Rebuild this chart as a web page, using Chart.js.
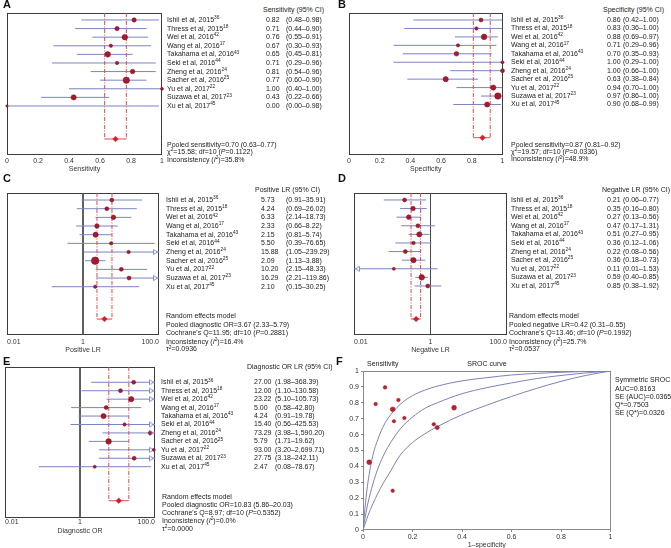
<!DOCTYPE html>
<html><head><meta charset="utf-8">
<script src="https://cdn.jsdelivr.net/npm/chart.js@4/dist/chart.umd.min.js"></script>
<style>
html,body{margin:0;padding:0;background:#fff;}
body{width:671px;height:548px;position:relative;overflow:hidden;font-family:"Liberation Sans",Arial,sans-serif;color:#222;}
canvas{position:absolute;}
.t{position:absolute;white-space:nowrap;font-size:7px;line-height:8px;height:8px;}
.sup{font-size:4.8px;position:relative;top:-2.7px;}
.lbl{position:absolute;font-weight:bold;font-size:11px;line-height:11px;color:#111;}
</style></head><body>
<script>
// ---------------- DATA ----------------
const studies = ["Ishii et al, 2015","Thress et al, 2015","Wei et al, 2016","Wang et al, 2016","Takahama et al, 2016","Seki et al, 2016","Zheng et al, 2016","Sacher et al, 2016","Yu et al, 2017","Suzawa et al, 2017","Xu et al, 2017"];
const refNums = ["36","18","42","17","43","44","24","25","22","23","45"];

const sensEst = [0.82,0.71,0.76,0.67,0.65,0.71,0.81,0.77,1.00,0.43,0.00];
const sensLo  = [0.48,0.44,0.55,0.30,0.45,0.29,0.54,0.60,0.40,0.22,0.00];
const sensHi  = [0.98,0.90,0.91,0.93,0.81,0.96,0.96,0.90,1.00,0.66,0.98];
const sensWeight = [4.8,4.8,7.8,2.9,7.8,2.9,5.3,10.2,2.3,6.8,1.4];
const sensPooled = [0.70,0.63,0.77];

const specEst = [0.86,0.83,0.88,0.71,0.70,1.00,1.00,0.63,0.94,0.97,0.90];
const specLo  = [0.42,0.36,0.69,0.29,0.35,0.29,0.66,0.38,0.70,0.86,0.68];
const specHi  = [1.00,1.00,0.97,0.96,0.93,1.00,1.00,0.84,1.00,1.00,0.99];
const specWeight = [4.0,2.9,7.8,2.9,5.3,2.3,4.0,6.8,6.8,10.2,6.8];
const specPooled = [0.87,0.81,0.92];

const plrEst = [5.73,4.24,6.33,2.33,2.15,5.50,15.88,2.09,10.20,16.29,2.10];
const plrLo  = [0.91,0.69,2.14,0.66,0.81,0.39,1.05,1.13,2.15,2.21,0.15];
const plrHi  = [35.91,26.02,18.73,8.22,5.74,76.65,239.29,3.88,48.33,119.86,30.25];
const plrWeight = [4.0,4.0,5.3,5.3,6.8,2.9,2.9,14.4,4.0,4.0,2.9];
const plrPooled = [3.67,2.33,5.79];

const nlrEst = [0.21,0.35,0.27,0.47,0.51,0.36,0.22,0.36,0.11,0.59,0.85];
const nlrLo  = [0.06,0.16,0.13,0.17,0.27,0.12,0.08,0.18,0.01,0.40,0.38];
const nlrHi  = [0.77,0.80,0.56,1.31,0.95,1.06,0.56,0.73,1.53,0.85,1.92];
const nlrWeight = [4.0,5.3,5.3,4.0,6.8,2.9,4.0,6.8,2.3,7.8,4.0];
const nlrPooled = [0.42,0.31,0.55];

const dorEst = [27.00,12.00,23.22,5.00,4.24,15.40,73.29,5.79,93.00,27.75,2.47];
const dorLo  = [1.98,1.10,5.10,0.58,0.91,0.56,3.98,1.71,3.20,3.18,0.08];
const dorHi  = [368.39,130.58,105.73,42.80,19.78,425.53,1590.20,19.62,2699.71,242.11,78.67];
const dorWeight = [4.0,4.0,6.8,4.0,6.8,2.9,2.9,7.8,2.3,4.0,2.3];
const dorPooled = [10.83,5.86,20.03];

const linTicks = [0,0.2,0.4,0.6,0.8,1];
const linTickLabels = ["0","0.2","0.4","0.6","0.8","1"];
const logTicks = [0.01,1,100];
const logTickLabels = ["0.01","1","100.0"];

const srocFpr  = [0.089,0.051,0.143,0.120,0.167,0.125,0.286,0.300,0.368,0.025,0.120];
const srocSens = [0.897,0.792,0.818,0.759,0.704,0.684,0.665,0.644,0.769,0.426,0.247];
const srocWeight = [3.2,3.2,3.2,5.8,3.2,2.9,3.2,4.4,5.8,5.8,3.2];
const curveX     = [0,0.01,0.02,0.04,0.06,0.08,0.1,0.15,0.2,0.25,0.3,0.4,0.5,0.6,0.7,0.8,0.9,1];
const curveUpper = [0,0.17,0.30,0.47,0.57,0.645,0.70,0.79,0.845,0.88,0.905,0.938,0.958,0.975,0.985,0.992,0.997,1];
const curveMid   = [0,0.09,0.17,0.29,0.385,0.46,0.52,0.635,0.71,0.765,0.80,0.857,0.895,0.925,0.952,0.972,0.988,1];
const curveLower = [0,0.045,0.09,0.165,0.23,0.29,0.34,0.47,0.55,0.605,0.65,0.725,0.785,0.84,0.89,0.935,0.972,1];
const srocTicksX = [0,0.2,0.4,0.6,0.8,1];
const srocTicksXLabels = ["0","0.2","0.4","0.6","0.8","1"];
const srocTicksY = [0,0.1,0.2,0.3,0.4,0.5,0.6,0.7,0.8,0.9,1];
const srocTicksYLabels = ["0","0.1","0.2","0.3","0.4","0.5","0.6","0.7","0.8","0.9","1"];

// ---------------- STYLE ----------------
const CI_COLOR = '#7a84c4';
const MARK_COLOR = '#a8182e';
const DASH_COLOR = '#e04a50';
const DIAMOND_COLOR = '#d21f2a';
const BOX_COLOR = '#3c3c3c';
Chart.defaults.font.family = '"Liberation Sans", Arial, sans-serif';
Chart.defaults.font.size = 7;
Chart.defaults.color = '#333';

const boxPlugin = {
  id: 'box',
  beforeDatasetsDraw(chart, args, opts) {
    const a = chart.chartArea, ctx = chart.ctx;
    ctx.save();
    ctx.strokeStyle = opts.color || BOX_COLOR;
    ctx.lineWidth = 1;
    ctx.strokeRect(Math.round(a.left) + 0.5, Math.round(a.top) + 0.5, Math.round(a.right - a.left) - 1, Math.round(a.bottom - a.top) - 1);
    ctx.restore();
  }
};
Chart.register(boxPlugin);

function arrowCanvas(dir) {
  const c = document.createElement('canvas'); c.width = 14; c.height = 8;
  const g = c.getContext('2d');
  g.strokeStyle = CI_COLOR; g.fillStyle = '#fff'; g.lineWidth = 0.9;
  g.beginPath();
  if (dir > 0) { g.moveTo(1.5, 1.5); g.lineTo(5.5, 4); g.lineTo(1.5, 6.5); }
  else { g.moveTo(12.5, 1.5); g.lineTo(8.5, 4); g.lineTo(12.5, 6.5); }
  g.closePath(); g.fill(); g.stroke();
  return c;
}
const arrowR = arrowCanvas(1), arrowL = arrowCanvas(-1);

function addCanvas(left, top, w, h) {
  const cv = document.createElement('canvas');
  cv.width = w; cv.height = h;
  cv.style.left = left + 'px'; cv.style.top = top + 'px';
  cv.style.width = w + 'px'; cv.style.height = h + 'px';
  document.body.appendChild(cv);
  return cv;
}
function txt(x, y, html, center) {
  const d = document.createElement('div');
  d.className = 't';
  d.style.left = x + 'px'; d.style.top = (y - 4) + 'px';
  if (center) d.style.transform = 'translateX(-50%)';
  d.innerHTML = html;
  document.body.appendChild(d);
  return d;
}
function letter(x, yc, ch) {
  const d = document.createElement('div');
  d.className = 'lbl'; d.style.left = x + 'px'; d.style.top = (yc - 5.5) + 'px';
  d.textContent = ch; document.body.appendChild(d);
}
const fmt = v => v.toLocaleString('en-US', {minimumFractionDigits: 2, maximumFractionDigits: 2});

function makeForest(c) {
  const cv = addCanvas(c.left, c.top, c.w, c.h);
  const rows = c.est.map((_, i) => i);
  const ds = [];
  if (c.refLine) ds.push({data: [{x: 1, y: c.yMin}, {x: 1, y: c.yMax}], showLine: true, borderColor: '#4a4a4a', borderWidth: 1, pointRadius: 0, order: 6});
  rows.forEach(i => ds.push({data: [{x: Math.max(c.lo[i], c.xMin), y: i}, {x: Math.min(c.hi[i], c.xMax), y: i}], showLine: true, borderColor: CI_COLOR, borderWidth: 1, pointRadius: 0, order: 5}));
  const [pe, pl, ph] = c.pooled;
  [pl, ph].forEach(v => ds.push({data: [{x: v, y: c.yMin}, {x: v, y: c.pooledRow}], showLine: true, borderColor: DASH_COLOR, borderWidth: 1, borderDash: [4, 1.5, 1, 1.5], pointRadius: 0, order: 4}));
  ds.push({data: [{x: pl, y: c.pooledRow}, {x: ph, y: c.pooledRow}], showLine: true, borderColor: DASH_COLOR, borderWidth: 1, pointRadius: 0, order: 4});
  if (c.arrows) {
    ds.push({data: rows.filter(i => c.hi[i] > c.xMax).map(i => ({x: c.xMax, y: i})), pointStyle: arrowR, pointRadius: 3, clip: false, order: 3});
    ds.push({data: rows.filter(i => c.lo[i] <= c.xMin).map(i => ({x: c.xMin, y: i})), pointStyle: arrowL, pointRadius: 3, clip: false, order: 3});
  }
  ds.push({data: rows.map(i => ({x: c.est[i], y: i})), pointStyle: 'circle', pointRadius: c.weight.map(w => Math.sqrt(w)), backgroundColor: MARK_COLOR, borderColor: '#7d1222', borderWidth: 0.5, clip: false, order: 2});
  ds.push({data: [{x: pe, y: c.pooledRow}], pointStyle: 'rectRot', pointRadius: 2.8, backgroundColor: DIAMOND_COLOR, borderColor: DIAMOND_COLOR, borderWidth: 0.5, clip: false, order: 1});

  const chart = new Chart(cv, {
    type: 'scatter',
    data: {datasets: ds},
    options: {
      responsive: false, animation: false, events: [],
      layout: {padding: {left: c.padL, top: c.padT, right: c.padR, bottom: 0}},
      plugins: {legend: {display: false}, tooltip: {enabled: false}, box: {color: BOX_COLOR}},
      scales: {
        x: {
          type: c.log ? 'logarithmic' : 'linear', min: c.xMin, max: c.xMax,
          afterBuildTicks: s => { s.ticks = c.tickValues.map(v => ({value: v})); },
          afterFit: s => { s.height = c.axisH; },
          grid: {display: false, drawTicks: false}, border: {display: false},
          ticks: {align: c.tickAlign, padding: c.tickPad, maxRotation: 0, autoSkip: false, color: '#333', callback: (v, i) => c.tickLabels[i]},
          title: {display: true, text: c.title, padding: 0, color: '#333'}
        },
        y: {type: 'linear', display: false, reverse: true, min: c.yMin, max: c.yMax}
      }
    }
  });
  // text columns
  const ys = chart.scales.y;
  txt(c.hdr[0], c.hdr[1], c.hdr[2]);
  rows.forEach(i => {
    const y = c.top + ys.getPixelForValue(i);
    txt(c.cols[0], y, studies[i] + '<span class="sup">' + refNums[i] + '</span>');
    txt(c.cols[1], y, fmt(c.est[i]));
    txt(c.cols[2], y, '(' + fmt(c.lo[i]) + '–' + fmt(c.hi[i]) + ')');
  });
  c.foot.forEach((line, k) => txt(c.footX, c.footY[k], line));
  return chart;
}

const I2 = '<i>I</i><span class="sup">2</span>';
const sq = '<span class="sup">2</span>';

makeForest({est: sensEst, lo: sensLo, hi: sensHi, weight: sensWeight, pooled: sensPooled,
  log: false, xMin: 0, xMax: 1, tickValues: linTicks, tickLabels: linTickLabels, tickAlign: 'center', tickPad: 1.5,
  title: 'Sensitivity', left: 0, top: 0, w: 172, h: 173, padL: 7, padT: 13, padR: 10, axisH: 18,
  yMin: -0.81, yMax: 15.7, pooledRow: 13.84, refLine: false, arrows: false,
  hdr: [263, 10, 'Sensitivity (95% CI)'], cols: [167, 266, 286], footX: 167, footY: [145, 152, 159.5],
  foot: ['Pooled sensitivity=' + fmt(sensPooled[0]) + ' (' + fmt(sensPooled[1]) + '–' + fmt(sensPooled[2]) + ')',
         'χ' + sq + '=15.58; df=10 (<i>P</i>=0.1122)', 'Inconsistency (' + I2 + ')=35.8%']});

makeForest({est: specEst, lo: specLo, hi: specHi, weight: specWeight, pooled: specPooled,
  log: false, xMin: 0, xMax: 1, tickValues: linTicks, tickLabels: linTickLabels, tickAlign: 'center', tickPad: 1.5,
  title: 'Specificity', left: 335, top: 0, w: 172, h: 173, padL: 14, padT: 13, padR: 3, axisH: 18,
  yMin: -0.83, yMax: 15.98, pooledRow: 13.93, refLine: false, arrows: false,
  hdr: [603, 10, 'Specificity (95% CI)'], cols: [511, 607, 623], footX: 511, footY: [144.7, 151.7, 159.3],
  foot: ['Pooled sensitivity=' + fmt(specPooled[0]) + ' (' + fmt(specPooled[1]) + '–' + fmt(specPooled[2]) + ')',
         'χ' + sq + '=19.57; df=10 (<i>P</i>=0.0336)', 'Inconsistency (' + I2 + ')=48.9%']});

makeForest({est: plrEst, lo: plrLo, hi: plrHi, weight: plrWeight, pooled: plrPooled,
  log: true, xMin: 0.01, xMax: 100, tickValues: logTicks, tickLabels: logTickLabels, tickAlign: 'inner', tickPad: 2.8,
  title: 'Positive LR', left: 0, top: 180, w: 172, h: 174, padL: 7, padT: 13, padR: 13, axisH: 19,
  yMin: -0.81, yMax: 15.57, pooledRow: 13.73, refLine: true, arrows: true,
  hdr: [255, 190, 'Positive LR (95% CI)'], cols: [166, 261, 286], footX: 166, footY: [315.7, 325, 333, 341.7, 349.3],
  foot: ['Random effects model', 'Pooled diagnostic OR=' + fmt(plrPooled[0]) + ' (' + fmt(plrPooled[1]) + '–' + fmt(plrPooled[2]) + ')',
         "Cochrane's Q=11.95; df=10 (<i>P</i>=0.2881)", 'Inconsistency (' + I2 + ')=16.4%', 'τ' + sq + '=0.0936']});

makeForest({est: nlrEst, lo: nlrLo, hi: nlrHi, weight: nlrWeight, pooled: nlrPooled,
  log: true, xMin: 0.01, xMax: 100, tickValues: logTicks, tickLabels: logTickLabels, tickAlign: 'inner', tickPad: 2.8,
  title: 'Negative LR', left: 335, top: 180, w: 180, h: 174, padL: 19, padT: 13, padR: 8, axisH: 19,
  yMin: -0.81, yMax: 15.7, pooledRow: 13.84, refLine: true, arrows: true,
  hdr: [602, 190, 'Negative LR (95% CI)'], cols: [511, 607, 623], footX: 509, footY: [315.7, 325, 333, 341.7, 349.3],
  foot: ['Random effects model', 'Pooled negative LR=' + fmt(nlrPooled[0]) + ' (' + fmt(nlrPooled[1]) + '–' + fmt(nlrPooled[2]) + ')',
         "Cochrane's Q=13.46; df=10 (<i>P</i>=0.1992)", 'Inconsistency (' + I2 + ')=25.7%', 'τ' + sq + '=0.0537']});

makeForest({est: dorEst, lo: dorLo, hi: dorHi, weight: dorWeight, pooled: dorPooled,
  log: true, xMin: 0.01, xMax: 100, tickValues: logTicks, tickLabels: logTickLabels, tickAlign: 'inner', tickPad: 0,
  title: 'Diagnostic OR', left: 0, top: 360, w: 170, h: 175, padL: 5, padT: 7, padR: 15, axisH: 17.3,
  yMin: -1.81, yMax: 16.04, pooledRow: 14.03, refLine: true, arrows: true,
  hdr: [247, 367, 'Diagnostic OR LR (95% CI)'], cols: [161, 254, 275], footX: 162, footY: [496.7, 505, 512.7, 521, 529],
  foot: ['Random effects model', 'Pooled diagnostic OR=' + fmt(dorPooled[0]) + ' (' + fmt(dorPooled[1]) + '–' + fmt(dorPooled[2]) + ')',
         "Cochrane's Q=8.97; df=10 (<i>P</i>=0.5352)", 'Inconsistency (' + I2 + ')=0.0%', 'τ' + sq + '=0.0000']});

// ---------------- SROC (F) ----------------
(function () {
  const cv = addCanvas(335, 360, 280, 189);
  const CURVE = '#7d80b8';
  const curve = arr => ({data: curveX.map((x, i) => ({x, y: arr[i]})), showLine: true, borderColor: CURVE, borderWidth: 1, pointRadius: 0, cubicInterpolationMode: 'monotone', order: 2});
  new Chart(cv, {
    type: 'scatter',
    data: {datasets: [
      curve(curveUpper), curve(curveMid), curve(curveLower),
      {data: srocFpr.map((x, i) => ({x, y: srocSens[i]})), pointStyle: 'circle', pointRadius: srocWeight.map(w => Math.sqrt(w)), backgroundColor: '#bb2230', borderColor: '#a01a26', borderWidth: 0.5, order: 1, clip: false}
    ]},
    options: {
      responsive: false, animation: false, events: [],
      layout: {padding: {left: 0, top: 11, right: 4, bottom: 0}},
      plugins: {legend: {display: false}, tooltip: {enabled: false}, box: {color: '#8a8a8a'}},
      scales: {
        x: {type: 'linear', min: 0, max: 1,
          afterBuildTicks: s => { s.ticks = srocTicksX.map(v => ({value: v})); },
          afterFit: s => { s.height = 19; },
          grid: {display: true, drawOnChartArea: false, drawTicks: true, tickLength: 2, color: '#8a8a8a'}, border: {display: false},
          ticks: {padding: 1, maxRotation: 0, autoSkip: false, color: '#333', callback: (v, i) => srocTicksXLabels[i]},
          title: {display: true, text: '1–specificity', padding: 0, color: '#333'}},
        y: {type: 'linear', min: 0, max: 1,
          afterBuildTicks: s => { s.ticks = srocTicksY.map(v => ({value: v})); },
          afterFit: s => { s.width = 28; },
          grid: {display: true, drawOnChartArea: false, drawTicks: true, tickLength: 2, color: '#8a8a8a'}, border: {display: false},
          ticks: {padding: 2, autoSkip: false, color: '#333', callback: (v, i) => srocTicksYLabels[i]}}
      }
    }
  });
  txt(367, 364, 'Sensitivity');
  txt(487, 364, 'SROC curve', true);
  txt(615, 380, 'Symmetric SROC');
  txt(615, 388.7, 'AUC=0.8163');
  txt(615, 397, 'SE (AUC)=0.0365');
  txt(615, 405, 'Q*=0.7503');
  txt(615, 413.3, 'SE (Q*)=0.0326');
})();

letter(3, 4.5, 'A');
letter(338, 4.5, 'B');
letter(3, 178.5, 'C');
letter(338, 178.5, 'D');
letter(3, 361, 'E');
letter(336, 361, 'F');
</script>
</body></html>
